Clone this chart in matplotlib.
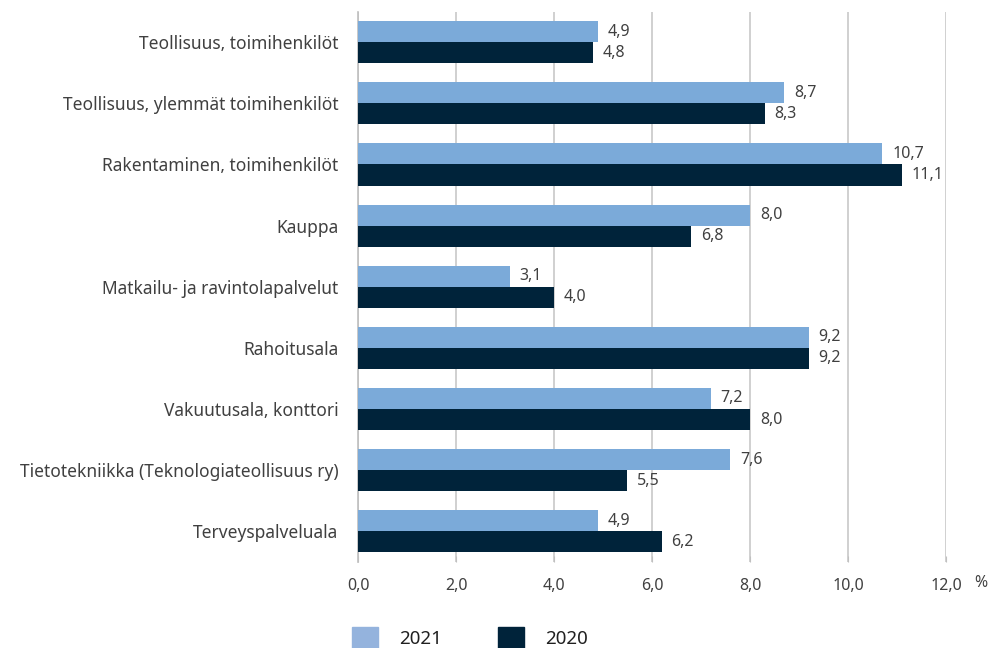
import matplotlib
matplotlib.use("Agg")
import matplotlib.pyplot as plt
import numpy as np
from matplotlib.patches import Patch

plt.rcParams['font.family'] = ['Noto Sans', 'DejaVu Sans']

categories = [
    "Teollisuus, toimihenkilöt",
    "Teollisuus, ylemmät toimihenkilöt",
    "Rakentaminen, toimihenkilöt",
    "Kauppa",
    "Matkailu- ja ravintolapalvelut",
    "Rahoitusala",
    "Vakuutusala, konttori",
    "Tietotekniikka (Teknologiateollisuus ry)",
    "Terveyspalveluala",
]
values_2021 = [4.9, 8.7, 10.7, 8.0, 3.1, 9.2, 7.2, 7.6, 4.9]
values_2020 = [4.8, 8.3, 11.1, 6.8, 4.0, 9.2, 8.0, 5.5, 6.2]
xticks = [0, 2, 4, 6, 8, 10, 12]
xtick_labels = ["0,0", "2,0", "4,0", "6,0", "8,0", "10,0", "12,0"]

c2021 = "#7BAAD9"
c2021_leg = "#94B3DD"
c2020 = "#00233A"
txt = "#404040"

fig = plt.figure(figsize=(9.89, 6.48), dpi=100)
ax = fig.add_axes([0.362, 0.133, 0.5945, 0.849])

y = np.arange(len(categories))
h = 0.345
ax.barh(y - h / 2, values_2021, height=h, color=c2021, zorder=3)
ax.barh(y + h / 2, values_2020, height=h, color=c2020, zorder=3)

for yi, v in zip(y, values_2021):
    ax.text(v + 0.2, yi - h / 2, f"{v:.1f}".replace(".", ","), va="center", ha="left",
            fontsize=11.5, color=txt)
for yi, v in zip(y, values_2020):
    ax.text(v + 0.2, yi + h / 2, f"{v:.1f}".replace(".", ","), va="center", ha="left",
            fontsize=11.5, color=txt)

ax.set_ylim(len(categories) - 0.5, -0.5)
ax.set_xlim(0, 12)
ax.set_yticks(y)
ax.set_yticklabels(categories, fontsize=12.5, color=txt)
ax.set_xticks(xticks)
ax.set_xticklabels(xtick_labels, fontsize=11.5, color=txt)
ax.tick_params(axis="y", length=0, pad=14)
ax.tick_params(axis="x", length=4, color="#C0C0C0", pad=12, direction="in")
ax.grid(axis="x", color="#C8C8C8", linewidth=1.2, zorder=0)
for s in ["top", "right", "bottom"]:
    ax.spines[s].set_visible(False)
ax.spines["left"].set_color("#BFBFBF")
ax.spines["left"].set_linewidth(1.2)

fig.text(0.992, 0.100, "%", fontsize=11.5, color=txt, ha="center", va="center")

handles = [Patch(color=c2021_leg, label="2021"), Patch(color=c2020, label="2020")]
fig.legend(handles=handles, loc="center", bbox_to_anchor=(0.475, 0.016), ncol=2,
           frameon=False, fontsize=13.5, handlelength=1.4, handleheight=1.4,
           columnspacing=3.0, handletextpad=1.1, labelcolor="#202020")

fig.savefig("out.png", dpi=100)
